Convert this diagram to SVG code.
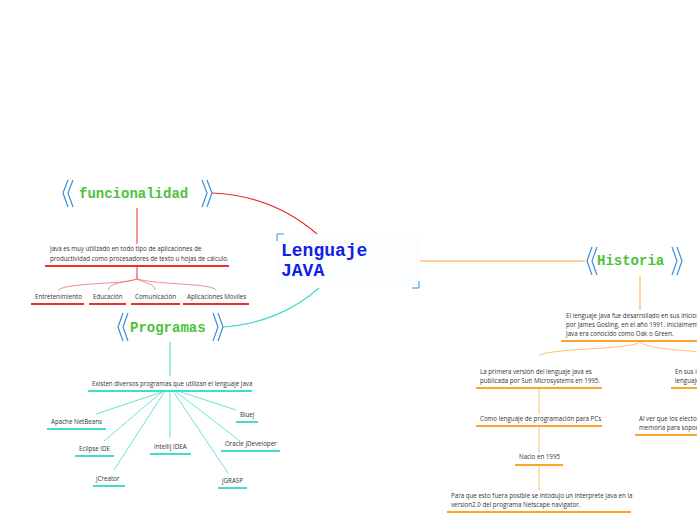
<svg xmlns="http://www.w3.org/2000/svg" width="697" height="520" viewBox="0 0 697 520">
<style>
.t{font-family:"Open Sans","Noto Sans",sans-serif;font-size:6.2px;fill:#333}
.m{font-family:"Liberation Mono",monospace;font-weight:bold;fill:#4cc23a;font-size:14px}
.br{fill:none;stroke:#3a8fdc;stroke-width:1.2}
.r{stroke:#e83030;stroke-width:2}
.c{stroke:#40dccc;stroke-width:2}
.o{stroke:#fba62a;stroke-width:2}
.rl{fill:none;stroke:#f07070;stroke-width:0.8}
.cl{fill:none;stroke:#40dccc;stroke-width:0.8}
.ol{fill:none;stroke:#fbc070;stroke-width:1}
</style>
<rect width="697" height="520" fill="#fff"/>
<g id="connectors" fill="none">
<path d="M212,193 C260,195 295,215 317,234" stroke="#e83030" stroke-width="1.2"/>
<path d="M222,327 C260,325 295,310 320,287" stroke="#40dccc" stroke-width="1.2"/>
<path d="M420,261 L585,261" stroke="#fba62a" stroke-width="1.2"/>
<line x1="137" y1="208" x2="137" y2="244" stroke="#e83030" stroke-width="1"/>
<line x1="137" y1="267" x2="137" y2="279" stroke="#e83030" stroke-width="1"/>
<path class="rl" d="M137,279 C120,285 70,282 58,290 M137,279 C125,283 110,282 108,290 M137,279 C145,283 155,284 155,290 M137,279 C160,285 210,283 216,290"/>
<line x1="170" y1="342" x2="170" y2="376" stroke="#40dccc" stroke-width="1"/>
<path class="cl" d="M165,391 L96,414 M163,391 L104,441 M165,391 L114,470 M170,391 L170,438 M173,391 L228,473 M175,391 L240,441 M178,391 L236,410"/>
<line x1="640" y1="276" x2="640" y2="310" stroke="#fba62a" stroke-width="1"/>
<path class="ol" d="M640,342 C630,350 545,348 539,356 M640,342 C650,350 690,350 697,352"/>
<line class="ol" x1="539" y1="389" x2="539" y2="414"/>
<line class="ol" x1="539" y1="427" x2="539" y2="453"/>
<line class="ol" x1="539" y1="466" x2="539" y2="490"/>
</g>
<g id="center">
<rect x="277" y="234" width="142" height="54" fill="#fcfdff"/>
<path d="M277,241 V234 H284 M419,281 V288 H412" fill="none" stroke="#3a8fdc" stroke-width="1"/>
<text x="281" y="256" font-family="Liberation Mono,monospace" font-weight="bold" font-size="18" fill="#1020e8">Lenguaje</text>
<text x="281" y="276" font-family="Liberation Mono,monospace" font-weight="bold" font-size="18" fill="#1020e8">JAVA</text>
</g>
<g id="funcionalidad">
<path class="br" d="M68,180 L63,193 L68,207 M73,180 L68,193 L73,207 M202,180 L207,193 L202,207 M207,180 L212,193 L207,207"/>
<text class="m" x="79" y="198">funcionalidad</text>
</g>
<g id="func-desc">
<text class="t" x="50" y="251">Java es muy utilizado en todo tipo de aplicaciones de</text>
<text class="t" x="50" y="261">productividad como procesadores de texto u hojas de cálculo.</text>
<line class="r" x1="45" y1="266" x2="229" y2="266"/>
</g>
<g id="entretenimiento"><text class="t" x="35" y="299">Entretenimiento</text><line class="r" x1="31" y1="304" x2="84" y2="304"/></g>
<g id="educacion"><text class="t" x="93" y="299">Educación</text><line class="r" x1="89" y1="304" x2="126" y2="304"/></g>
<g id="comunicacion"><text class="t" x="135" y="299">Comunicación</text><line class="r" x1="131" y1="304" x2="180" y2="304"/></g>
<g id="aplicaciones"><text class="t" x="187" y="299">Aplicaciones Moviles</text><line class="r" x1="183" y1="304" x2="249" y2="304"/></g>
<g id="programas">
<path class="br" d="M123,313 L118,327 L123,341 M128,313 L123,327 L128,341 M213,313 L218,327 L213,341 M218,313 L223,327 L218,341"/>
<text class="m" x="130" y="332">Programas</text>
</g>
<g id="prog-desc"><text class="t" x="92" y="386">Existen diversos programas que utilizan el lenguaje java</text><line class="c" x1="88" y1="391" x2="252" y2="391"/></g>
<g id="netbeans"><text class="t" x="51" y="424">Apache NetBeans</text><line class="c" x1="47" y1="429" x2="106" y2="429"/></g>
<g id="eclipse"><text class="t" x="79" y="451">Eclipse IDE</text><line class="c" x1="75" y1="456" x2="114" y2="456"/></g>
<g id="jcreator"><text class="t" x="96" y="481">JCreator</text><line class="c" x1="93" y1="486" x2="125" y2="486"/></g>
<g id="intellij"><text class="t" x="154" y="449">Intellij IDEA</text><line class="c" x1="150" y1="454" x2="191" y2="454"/></g>
<g id="jgrasp"><text class="t" x="222" y="483">jGRASP</text><line class="c" x1="218" y1="488" x2="247" y2="488"/></g>
<g id="oracle"><text class="t" x="225" y="446">Oracle JDeveloper</text><line class="c" x1="221" y1="451" x2="280" y2="451"/></g>
<g id="bluej"><text class="t" x="240" y="417">BlueJ</text><line class="c" x1="236" y1="422" x2="258" y2="422"/></g>
<g id="historia">
<path class="br" d="M592,247 L587,261 L592,275 M597,247 L592,261 L597,275 M672,247 L677,261 L672,275 M677,247 L682,261 L677,275"/>
<text class="m" x="597" y="265">Historia</text>
</g>
<g id="hist-desc">
<text class="t" x="566" y="318">El lenguaje Java fue desarrollado en sus inicios</text>
<text class="t" x="566" y="327">por James Gosling, en el año 1991. Inicialmente</text>
<text class="t" x="566" y="336">Java era conocido como Oak o Green.</text>
<line class="o" x1="561" y1="341" x2="697" y2="341"/>
</g>
<g id="primera"><text class="t" x="480" y="374">La primera versión del lenguaje Java es</text><text class="t" x="480" y="383">publicada por Sun Microsystems en 1995.</text><line class="o" x1="476" y1="388" x2="602" y2="388"/></g>
<g id="pcs"><text class="t" x="480" y="421">Como lenguaje de programación para PCs</text><line class="o" x1="476" y1="426" x2="602" y2="426"/></g>
<g id="nacio"><text class="t" x="519" y="459">Nacio en 1995</text><line class="o" x1="515" y1="465" x2="563" y2="465"/></g>
<g id="interprete"><text class="t" x="451" y="498">Para que esto fuera posible se intodujo un interprete Java en la</text><text class="t" x="451" y="507">version2.0 del programa Netscape navigator.</text><line class="o" x1="447" y1="512" x2="631" y2="512"/></g>
<g id="ensus"><text class="t" x="675" y="374">En sus inicios</text><text class="t" x="675" y="383">lenguaje</text><line class="o" x1="671" y1="388" x2="697" y2="388"/></g>
<g id="alver"><text class="t" x="639" y="421">Al ver que los electodomésticos</text><text class="t" x="639" y="430">memoria para soportar</text><line class="o" x1="635" y1="435" x2="697" y2="435"/></g>
</svg>
